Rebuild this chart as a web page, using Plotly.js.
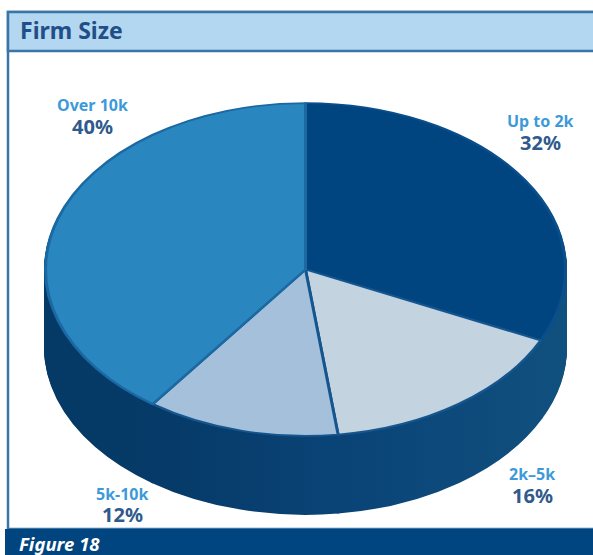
<!DOCTYPE html>
<html>
<head>
<meta charset="utf-8">
<script src="https://cdn.plot.ly/plotly-3.0.1.min.js"></script>
<style>html,body{margin:0;padding:0;background:#fff}#chart{width:593px;height:555px}</style>
</head>
<body>
<div id="chart"></div>
<script>
var categories = ['Up to 2k', '2k\u20135k', '5k-10k', 'Over 10k'];
var shares = [32, 16, 12, 40];
var sliceColors = ['#004480', '#c3d3e0', '#a4c0da', '#2a86bf'];
var edgeColors = ['#0a4f8c', '#15568f', '#15568f', '#1b69a3'];
var shareLabels = ['32%', '16%', '12%', '40%'];
var chartTitle = 'Firm Size';
var figureLabel = 'Figure 18';

var W = 593, H = 555;
var R = 260, CX = 305.5, CY = 269.5, SQUASH = 0.64, DEPTH = 78;
function fx(p){return p/W;}
function fy(p){return 1-p/H;}

var traces = [];
var pieDomain = {x:[fx(CX-R), fx(CX+R)], y:[fy(H/2+R), fy(H/2-R)]};
for (var d = DEPTH; d >= 1; d--) {
  traces.push({type:'pie', values:shares, labels:categories, sort:false, direction:'clockwise', rotation:0,
    textinfo:'none', hoverinfo:'skip', showlegend:false, domain:pieDomain,
    marker:{colors:['#0a4576','#0a4576','#0a4576','#0a4576'], line:{color:'#0a4576', width:3}}});
}
traces.push({type:'pie', values:shares, labels:categories, sort:false, direction:'clockwise', rotation:0,
  textinfo:'none', showlegend:false, domain:pieDomain,
  marker:{colors:sliceColors, line:{color:edgeColors, width:3}}});

var labelSpots = [[540,121,142],[532,474,495],[122,494,514],[92,105,126]];
var annotations = [];
categories.forEach(function(c,i){
  annotations.push({xref:'paper',yref:'paper',x:fx(labelSpots[i][0]),y:fy(labelSpots[i][1]),text:'<b>'+c+'</b>',showarrow:false,
    xanchor:'center',yanchor:'middle',font:{family:'Noto Sans',size:16,color:'#3d9ad9'}});
  annotations.push({xref:'paper',yref:'paper',x:fx(labelSpots[i][0]),y:fy(labelSpots[i][2]),text:'<b>'+shareLabels[i]+'</b>',showarrow:false,
    xanchor:'center',yanchor:'middle',font:{family:'Noto Sans',size:20,color:'#2f5a8c'}});
});
annotations.push({xref:'paper',yref:'paper',x:fx(18),y:fy(30),text:'<b>'+chartTitle+'</b>',showarrow:false,xanchor:'left',yanchor:'middle',
  font:{family:'Noto Sans',size:23,color:'#1f4f86'}});
annotations.push({xref:'paper',yref:'paper',x:fx(17),y:fy(543),text:'<b><i>'+figureLabel+'</i></b>',showarrow:false,xanchor:'left',yanchor:'middle',
  font:{family:'Noto Sans',size:18.5,color:'#ffffff'}});

var shapes = [
  {type:'rect',xref:'paper',yref:'paper',layer:'below',x0:fx(8),x1:fx(600),y0:fy(529),y1:fy(12),fillcolor:'#ffffff',line:{color:'#3a75a8',width:2.5}},
  {type:'rect',xref:'paper',yref:'paper',layer:'below',x0:fx(8),x1:fx(600),y0:fy(51),y1:fy(12),fillcolor:'#b3d6f1',line:{color:'#3a75a8',width:2.5}},
  {type:'rect',xref:'paper',yref:'paper',layer:'below',x0:fx(5),x1:fx(600),y0:fy(560),y1:fy(529),fillcolor:'#004480',line:{width:0}}
];

var layout = {width:W,height:H,margin:{l:0,r:0,t:0,b:0},paper_bgcolor:'#ffffff',showlegend:false,annotations:annotations,shapes:shapes};

Plotly.newPlot('chart',traces,layout,{displayModeBar:false}).then(function(gd){
  var groups = gd.querySelectorAll('.pielayer .trace');
  var svg = gd.querySelector('svg.main-svg');
  var ns = 'http://www.w3.org/2000/svg';
  var defs = svg.querySelector('defs') || svg.insertBefore(document.createElementNS(ns,'defs'),svg.firstChild);
  var minX = Infinity, maxX = -Infinity;
  groups[0].querySelectorAll('path.surface').forEach(function(p){
    var b = p.getBBox();
    minX = Math.min(minX,b.x); maxX = Math.max(maxX,b.x+b.width);
  });
  var grad = document.createElementNS(ns,'linearGradient');
  grad.setAttribute('id','sideGrad');
  grad.setAttribute('gradientUnits','userSpaceOnUse');
  grad.setAttribute('x1',minX); grad.setAttribute('x2',maxX);
  grad.setAttribute('y1',0); grad.setAttribute('y2',0);
  [[0,'#053a66'],[0.25,'#063b69'],[0.55,'#0a4376'],[1,'#10507f']].forEach(function(st){
    var s=document.createElementNS(ns,'stop');
    s.setAttribute('offset',st[0]); s.setAttribute('stop-color',st[1]); grad.appendChild(s);
  });
  defs.appendChild(grad);
  groups.forEach(function(g,i){
    var drop = i < DEPTH ? DEPTH - i : 0;
    g.setAttribute('transform','translate(0,'+(CY+drop)+') scale(1,'+SQUASH+') translate(0,'+(-H/2)+')');
    if (i < DEPTH) g.querySelectorAll('path').forEach(function(p){
      p.style.fill='url(#sideGrad)';p.style.stroke='url(#sideGrad)';p.style.pointerEvents='none';
    });
  });
});
</script>
</body>
</html>
